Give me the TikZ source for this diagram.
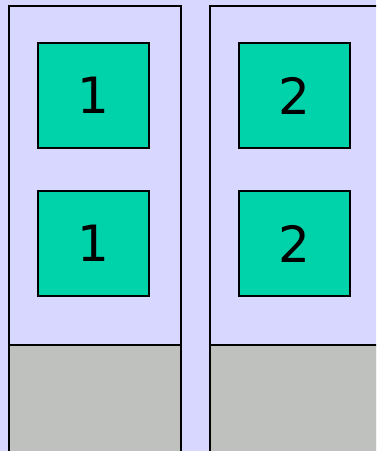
\documentclass[tikz,border=0pt]{standalone}
\usepackage{fontspec}
\setmainfont{DejaVu Sans}
\usepackage{tikz}
\definecolor{lavender}{RGB}{215,215,255}
\definecolor{cellgreen}{RGB}{0,210,170}
\definecolor{footgray}{RGB}{191,193,191}

\begin{document}
\begin{tikzpicture}[x=1pt,y=-1pt,
	cellbox/.style={draw=black, line width=2pt, fill=cellgreen, minimum width=111pt, minimum height=105pt, inner sep=0pt, font=\fontsize{50}{60}\selectfont}]
			\clip (0,0) rectangle (376,451);
			\fill[lavender] (0,0) rectangle (376,451);
			% columns
			\draw[line width=2pt, fill=lavender] (9,6) rectangle (181,470);
			\draw[line width=2pt, fill=lavender] (210,6) rectangle (400,470);
			\draw[line width=2pt, fill=footgray] (9,345) rectangle (181,470);
			\draw[line width=2pt, fill=footgray] (210,345) rectangle (400,470);
			% cells
			\node[cellbox] (a1) at (93.5,95.5) {1};
			\node[cellbox] (a2) at (93.5,243.5) {1};
			\node[cellbox] (b1) at (294.5,95.5) {2};
			\node[cellbox] (b2) at (294.5,243.5) {2};
			\end{tikzpicture}
\end{document}
